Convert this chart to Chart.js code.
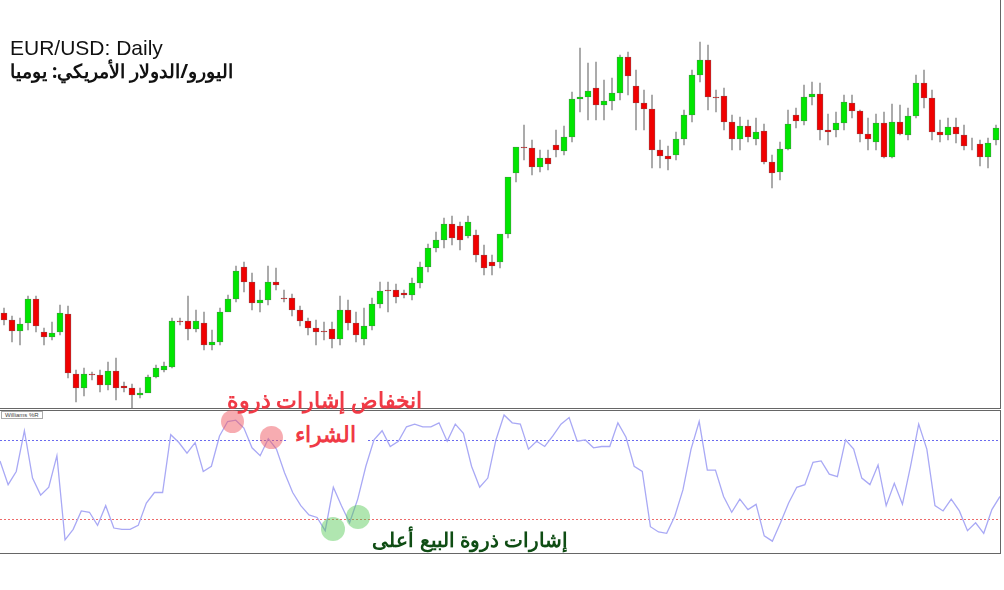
<!DOCTYPE html>
<html>
<head>
<meta charset="utf-8">
<script src="https://cdn.jsdelivr.net/npm/chart.js@4"></script>
<style>
	body { margin: 0; background: #fff; width: 1004px; height: 590px; position: relative; overflow: hidden; font-family: 'Liberation Sans', Arial, sans-serif; }
	#top-wrap { position: absolute; left: 0; top: 0; width: 1000px; height: 408px; border-right: 1px solid #666; border-bottom: 1px solid #666; }
	#bot-wrap { position: absolute; left: 0; top: 410px; width: 1000px; height: 142px; border: 1px solid #666; border-left: none; }
	.title { position: absolute; left: 10px; top: 36px; font-size: 21px; color: #111; }
	.subtitle { position: absolute; left: 10px; top: 58px; font-size: 19px; font-weight: bold; color: #111; font-family: 'Noto Sans', sans-serif; }
	.wr { position: absolute; left: 1px; top: 411px; font-size: 6px; color: #444; border: 1px solid #aaa; padding: 0 3px; background: #fff; }
	.dot { position: absolute; border-radius: 50%; }
	.note { position: absolute; font-weight: bold; font-family: 'Noto Sans', sans-serif; white-space: nowrap; direction: rtl; letter-spacing: -0.5px; }
</style>
</head>
<body>
<div id="top-wrap"><canvas id="price-chart"></canvas></div>
<div id="bot-wrap"><canvas id="wr-chart"></canvas></div>
<div class="title">EUR/USD: Daily</div>
<div class="subtitle" dir="rtl">اليورو/الدولار الأمريكي: يوميا</div>
<div class="wr">Williams %R</div>

<div class="dot" style="left:221px;top:410px;width:23px;height:23px;background:rgba(240,90,100,.5)"></div>
<div class="dot" style="left:260px;top:426px;width:23px;height:23px;background:rgba(240,90,100,.5)"></div>
<div class="dot" style="left:321px;top:517px;width:24px;height:24px;background:rgba(80,200,80,.45)"></div>
<div class="dot" style="left:346px;top:505px;width:24px;height:24px;background:rgba(80,200,80,.45)"></div>
<div class="note" style="right:582px;top:384px;font-size:22px;color:#f03a46">انخفاض إشارات ذروة</div>
<div class="note" style="right:636px;font-size:22px;color:#f03a46;background:#fff;padding:0 12px 0 8px;line-height:34px;top:416px">الشراء</div>
<div class="note" style="right:436px;top:526px;font-size:20px;color:#0f4d14">إشارات ذروة البيع أعلى</div>

<script>
// price values are read as chart levels (top of panel = 0, grows downward)
const opens = [313,320,331,323,299,332,337,332,314,374,388,374,375,385,371,386,388,395,393,377,370,367,321,321,329,323,345,342,312,299,267,282,303,300,282,298,298,310,321,328,331,329,339,310,323,339,326,304,290,290,293,295,283,267,248,240,224,226,236,235,255,262,262,234,173,147,148,167,158,145,151,137,99,97,88,105,101,93,57,86,103,109,150,156,155,139,115,75,60,97,96,122,139,126,139,131,162,172,149,115,121,97,94,130,130,123,103,111,134,142,123,157,122,135,116,83,98,132,135,127,135,144,144,157,140];
const closes = [320,331,324,299,326,337,333,313,373,388,374,375,385,371,388,388,395,393,377,368,366,321,322,329,321,345,342,312,299,271,282,303,300,282,285,299,310,321,328,332,332,339,310,323,335,326,304,291,291,297,295,283,267,248,240,224,238,240,222,255,268,266,234,177,147,148,167,158,164,150,137,99,97,91,105,101,93,57,76,103,109,150,156,159,139,115,75,60,97,98,122,139,126,137,132,162,173,149,124,121,97,94,130,132,123,102,111,134,139,123,157,122,134,116,83,98,132,135,127,134,146,144,157,143,128];
const highs = [308,316,318,296,296,328,322,305,306,370,368,372,370,362,358,382,384,388,375,365,362,318,318,296,310,312,330,308,295,266,262,273,290,266,268,290,294,306,318,320,322,322,296,300,312,308,298,282,282,284,290,278,262,244,232,218,216,222,216,230,245,255,250,225,170,125,140,150,150,130,126,92,48,63,62,80,78,55,52,70,90,95,140,146,132,110,70,42,45,90,88,115,117,120,118,124,155,142,110,108,85,82,83,114,112,95,95,110,118,114,112,104,105,108,75,70,90,120,118,118,125,138,140,138,125];
const lows = [325,342,345,330,332,345,340,335,378,402,396,380,392,390,400,392,408,398,380,378,372,368,325,340,332,350,350,345,305,302,292,310,312,305,290,302,316,326,335,345,340,348,345,330,342,345,330,308,312,303,298,300,288,272,252,248,245,250,238,262,275,275,268,238,182,160,175,172,170,157,155,142,112,120,120,120,110,100,95,130,130,168,168,170,160,145,122,82,110,112,130,150,150,142,145,164,188,180,150,128,125,105,140,145,137,130,118,142,150,150,158,158,135,140,118,108,140,142,140,143,150,150,166,168,145];

const williams = [-36,-54,-44,-13,-49,-62,-56,-32,-96,-88,-74,-75,-85,-70,-87,-88,-88,-85,-68,-60,-60,-16,-22,-30,-22,-44,-40,-17,-6,-5,-11,-26,-32,-19,-27,-45,-60,-70,-77,-79,-89,-56,-70,-83,-65,-40,-20,-13,-25,-21,-10,-8,-10,-10,-7,-21,-8,-15,-40,-56,-49,-20,-1,-7,-8,-27,-21,-25,-17,-8,-3,-21,-20,-26,-25,-25,-7,-18,-40,-44,-86,-90,-91,-78,-58,-27,-6,-43,-43,-63,-75,-65,-73,-69,-93,-97,-83,-68,-56,-54,-37,-36,-46,-48,-20,-27,-49,-54,-39,-70,-53,-69,-40,-8,-27,-70,-74,-65,-74,-89,-83,-91,-73,-63];
const levels = [-20, -80];
const levelColors = ['#6a6aee', '#ee6a6a'];

const labels = opens.map((v, i) => i + 1);
const bodies = opens.map((o, i) => [o, closes[i]]);
const wicks = highs.map((h, i) => [h, lows[i]]);
const bodyColors = opens.map((o, i) => (o < closes[i] ? '#f00000' : '#00e600'));

const priceCanvas = document.querySelector('#price-chart');
priceCanvas.width = 1000;
priceCanvas.height = 408;

const priceChart = new Chart(priceCanvas, {
	type: 'bar',
	data: {
		labels: labels,
		datasets: [
			{
				data: bodies,
				backgroundColor: bodyColors,
				borderColor: '#666',
				borderWidth: 0.6,
				borderSkipped: false,
				barThickness: 6,
				grouped: false,
				order: 1,
			},
			{
				data: wicks,
				backgroundColor: '#9a9a9a',
				barThickness: 1,
				grouped: false,
				order: 2,
			},
		],
	},
	options: {
		responsive: false,
		animation: false,
		layout: { padding: 0 },
		scales: {
			x: { display: false },
			y: { display: false, reverse: true, min: 0, max: 408 },
		},
		plugins: { legend: { display: false }, tooltip: { enabled: false } },
	},
});

// dotted overbought / oversold levels
const levelLines = {
	id: 'levelLines',
	beforeDatasetsDraw(chart) {
		const ctx = chart.ctx;
		const area = chart.chartArea;
		ctx.save();
		ctx.lineWidth = 1;
		ctx.setLineDash([2, 2]);
		levels.forEach((lv, i) => {
			const y = Math.round(chart.scales.y.getPixelForValue(lv)) + 0.5;
			ctx.strokeStyle = levelColors[i];
			ctx.beginPath();
			ctx.moveTo(area.left, y);
			ctx.lineTo(area.right, y);
			ctx.stroke();
		});
		ctx.restore();
	},
};

const wrCanvas = document.querySelector('#wr-chart');
wrCanvas.width = 1000;
wrCanvas.height = 142;

const wrChart = new Chart(wrCanvas, {
	type: 'line',
	data: {
		labels: williams.map((v, i) => i + 1),
		datasets: [
			{
				data: williams,
				borderColor: '#a9a9f5',
				borderWidth: 1.3,
				pointRadius: 0,
				tension: 0,
			},
		],
	},
	options: {
		responsive: false,
		animation: false,
		layout: { padding: 0 },
		scales: {
			x: { display: false },
			y: { display: false, min: -106, max: 2 },
		},
		plugins: { legend: { display: false }, tooltip: { enabled: false } },
	},
	plugins: [levelLines],
});
</script>
</body>
</html>
